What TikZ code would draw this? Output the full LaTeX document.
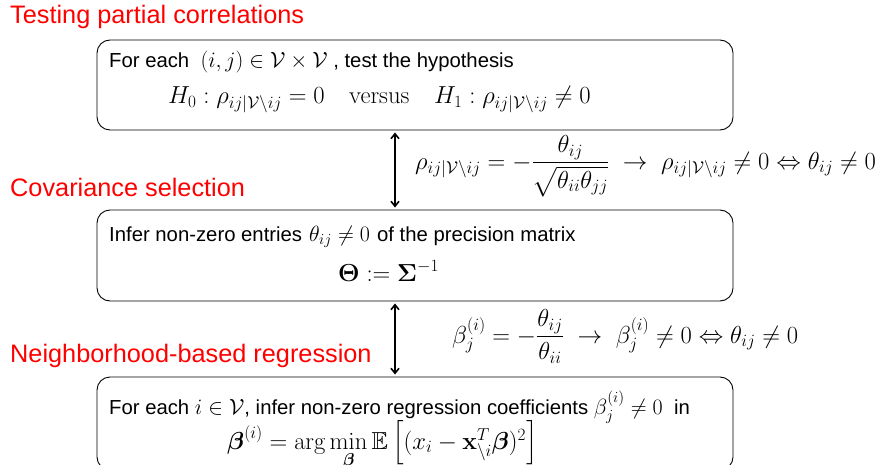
\RequirePackage{fix-cm}
\documentclass[tikz,border=0pt]{standalone}
\usepackage{amsmath,amssymb}
\usepackage[no-math]{fontspec}
\setmainfont{Liberation Sans}
\usetikzlibrary{arrows.meta,calc}
\newcommand\mth[1]{{\fontsize{22}{26}\selectfont$#1$}}
\begin{document}
\begin{tikzpicture}[x=1pt,y=1pt,
  title/.style={anchor=west,inner sep=0pt,text=red,font=\fontsize{25.3}{30}\selectfont},
  boxstyle/.style={draw,rounded corners=13pt,line width=0.9pt,inner sep=0pt,minimum width=636pt},
  txt/.style={anchor=base west,inner sep=0pt,font=\fontsize{20.3}{24}\selectfont},
  mtxt/.style={anchor=base west,inner sep=0pt,font=\fontsize{24.6}{28}\selectfont},
  arr/.style={{Straight Barb[length=5pt,width=8pt]}-{Straight Barb[length=5pt,width=8pt]},line width=1.6pt}]
\useasboundingbox (0,0) rectangle (885,-465);
% titles
\node[title] (t1) at (10,-17) {Testing partial correlations};
\node[title] (t2) at (10,-187) {Covariance selection};
\node[title] (t3) at (10,-356) {Neighborhood-based regression};
% boxes
\node[boxstyle,minimum height=90pt] (b1) at (415,-85) {};
\node[boxstyle,minimum height=91pt] (b2) at (415,-255.5) {};
\node[boxstyle,minimum height=93pt] (b3) at (415,-423.5) {};
% box texts
\node[txt] (l11) at (109,-68) {For each \ \mth{(i,j)\in\mathcal{V}\times\mathcal{V}} , test the hypothesis};
\node[mtxt] (l12) at (168,-104) {$H_0:\rho_{ij|\mathcal{V}\backslash ij}=0\quad\mathrm{versus}\quad H_1:\rho_{ij|\mathcal{V}\backslash ij}\neq0$};
\node[txt] (l21) at (109,-241.5) {Infer non-zero entries\hspace{7pt}\mth{\theta_{ij}\neq0}\hspace{7pt}of the precision matrix};
\node[mtxt] (l22) at (338,-281.5) {$\boldsymbol{\Theta}:=\boldsymbol{\Sigma}^{-1}$};
\node[txt] (l31) at (109,-414) {For each \mth{i\in\mathcal{V}}, infer non-zero regression coefficients \mth{\beta_j^{(i)}\neq0} \ in};
\node[mtxt] (l32) at (227,-449) {$\boldsymbol{\beta}^{(i)}=\arg\min\limits_{\boldsymbol{\beta}}\mathbb{E}\left[(x_i-\mathbf{x}_{\backslash i}^T\boldsymbol{\beta})^2\right]$};
% arrows
\coordinate (ax) at (395,0);
\draw[arr] ($(b1.south -| ax)+(0,-2)$) -- ($(b2.north -| ax)+(0,2)$);
\node[mtxt] (la) at (415,-169) {$\rho_{ij|\mathcal{V}\backslash ij}=-\dfrac{\theta_{ij}}{\sqrt{\theta_{ii}\theta_{jj}}}\ \rightarrow\ \rho_{ij|\mathcal{V}\backslash ij}\neq0\Leftrightarrow\theta_{ij}\neq0$};
\draw[arr] ($(b2.south -| ax)+(0,-2)$) -- ($(b3.north -| ax)+(0,2)$);
\node[mtxt] (lb) at (452,-343) {$\beta_j^{(i)}=-\dfrac{\theta_{ij}}{\theta_{ii}}\ \rightarrow\ \beta_j^{(i)}\neq0\Leftrightarrow\theta_{ij}\neq0$};
\end{tikzpicture}
\end{document}
